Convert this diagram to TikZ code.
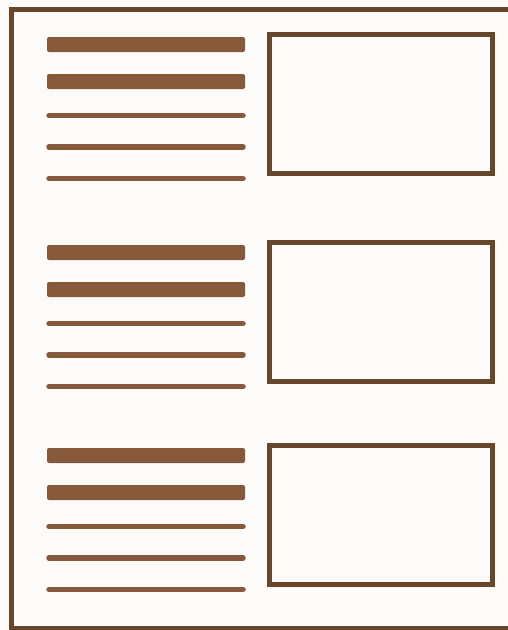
\documentclass[tikz,border=0pt]{standalone}
\usepackage{tikz}
\usepackage{xcolor}

\definecolor{barbrown}{RGB}{133,89,58}
\definecolor{framebrown}{RGB}{104,70,44}
\definecolor{paper}{RGB}{253,251,250}

\begin{document}
\begin{tikzpicture}[
  x=1pt, y=-1pt,
  headbar/.style={fill=barbrown, rounded corners=2pt},
  textline/.style={draw=barbrown, line width=5.5pt, line cap=round},
  picbox/.style={draw=framebrown, line width=5pt, fill=paper},
]
% page and margins
\fill[paper] (0,0) rectangle (508,630);
\useasboundingbox (0,0) rectangle (508,630);
\draw[framebrown, line width=5pt] (11,9.5) rectangle (516,628);

% three rows: heading bars, text lines, picture box
\foreach \y [count=\i] in {44.5,252.5,455.5} {
  \fill[headbar] (47,\y-7.5) rectangle (245,\y+7.5);
  \fill[headbar] (47,\y+29.5) rectangle (245,\y+44.5);
  \foreach \d in {71,102.5,134}
    \draw[textline] (49,\y+\d) -- (243,\y+\d);
  \draw[picbox] (269.5,\y-10) rectangle (492.5,\y+129);
}
\end{tikzpicture}
\end{document}
